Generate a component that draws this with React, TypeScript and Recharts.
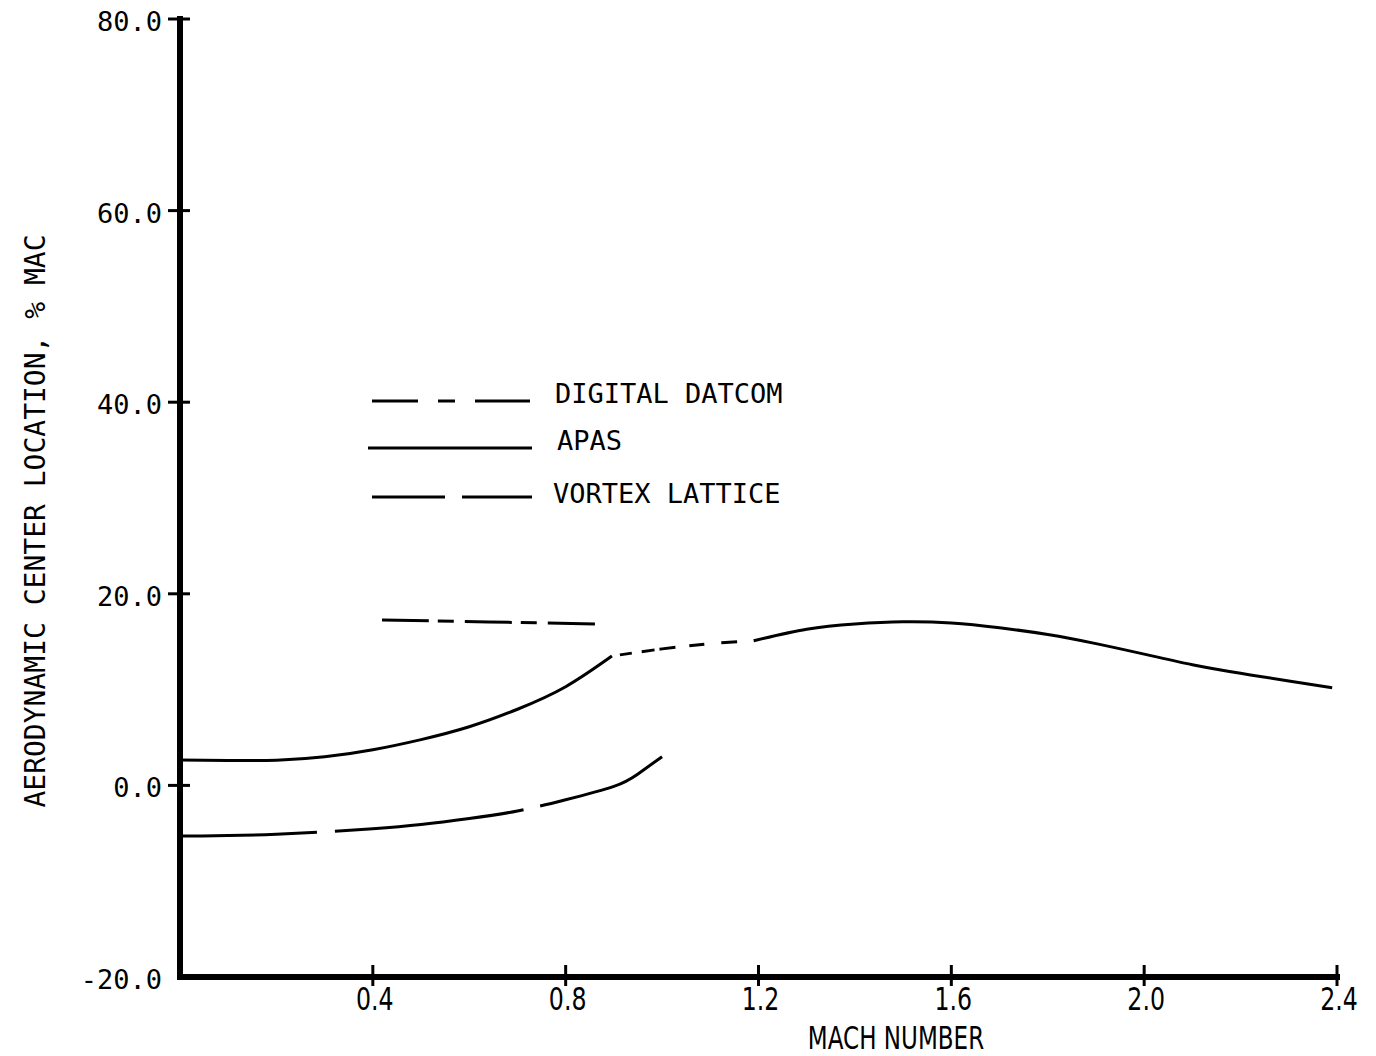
import React from 'react';
import { LineChart, Line, XAxis, YAxis, Customized } from 'recharts';

// ---- Data (Mach number vs aerodynamic center location, % MAC) ----
const apasSubsonicMach = [0, 0.1, 0.2, 0.3, 0.4, 0.5, 0.6, 0.7, 0.8, 0.896];
const apasSubsonicValues = [2.65, 2.6, 2.62, 2.98, 3.72, 4.78, 6.12, 7.95, 10.3, 13.5];

const apasSupersonicMach = [1.19, 1.3, 1.4, 1.5, 1.6, 1.7, 1.8, 1.9, 2.0, 2.1, 2.2, 2.3, 2.39];
const apasSupersonicValues = [15.1, 16.3, 16.85, 17.08, 16.95, 16.45, 15.75, 14.8, 13.7, 12.6, 11.7, 10.9, 10.2];

const datcomSubsonicMach = [0.419, 0.64, 0.865];
const datcomSubsonicValues = [17.27, 17.06, 16.85];

const datcomTransonicMach = [0.896, 1.0, 1.1, 1.19];
const datcomTransonicValues = [13.5, 14.25, 14.8, 15.1];

const vortexMach = [0, 0.1, 0.2, 0.3, 0.4, 0.5, 0.6, 0.7, 0.8, 0.9, 0.95, 1.0];
const vortexValues = [-5.28, -5.24, -5.1, -4.85, -4.52, -4.08, -3.46, -2.67, -1.5, -0.1, 1.2, 3.0];

const xTicks = [0.4, 0.8, 1.2, 1.6, 2.0, 2.4];
const yTicks = [-20, 0, 20, 40, 60, 80];

const legendLabels = ['DIGITAL DATCOM', 'APAS', 'VORTEX LATTICE'];
const xAxisTitle = 'MACH NUMBER';
const yAxisTitle = 'AERODYNAMIC CENTER LOCATION, % MAC';

const toPoints = (ms: number[], vs: number[]) => ms.map((m, i) => ({ mach: m, value: vs[i] }));

const apasSub = toPoints(apasSubsonicMach, apasSubsonicValues);
const apasSup = toPoints(apasSupersonicMach, apasSupersonicValues);
const datcomSub = toPoints(datcomSubsonicMach, datcomSubsonicValues);
const datcomTrans = toPoints(datcomTransonicMach, datcomTransonicValues);
const vortex = toPoints(vortexMach, vortexValues);

const MONO = "'DejaVu Sans Mono', 'Liberation Mono', monospace";
const SANS = "'DejaVu Sans', 'Liberation Sans', sans-serif";

const XTick = (props: any) => {
  const { x, y, payload } = props;
  return (
    <g>
      <line x1={x} x2={x} y1={y - 12} y2={y + 9} stroke="#000" strokeWidth={3} />
      <text
        transform={`translate(${x + 2},${y + 33}) scale(0.74,1)`}
        textAnchor="middle"
        fontFamily={SANS}
        fontSize={32}
        fill="#000"
      >
        {Number(payload.value).toFixed(1)}
      </text>
    </g>
  );
};

const YTick = (props: any) => {
  const { x, y, payload } = props;
  const v = Number(payload.value);
  return (
    <g>
      {v !== -20 && <line x1={x - 12} x2={x + 10} y1={y} y2={y} stroke="#000" strokeWidth={3} />}
      <text x={x - 18} y={y + 12} textAnchor="end" fontFamily={MONO} fontSize={27} fill="#000">
        {v.toFixed(1)}
      </text>
    </g>
  );
};

const Overlay = () => (
  <g>
    {/* Legend */}
    <line x1={372} x2={530} y1={401} y2={401} stroke="#000" strokeWidth={3} strokeDasharray="46 20 17 20 60" />
    <text x={555} y={403} fontFamily={MONO} fontSize={27} fill="#000">{legendLabels[0]}</text>
    <line x1={368} x2={532} y1={448} y2={448} stroke="#000" strokeWidth={3} />
    <text x={557} y={450} fontFamily={MONO} fontSize={27} fill="#000">{legendLabels[1]}</text>
    <line x1={372} x2={532} y1={497} y2={497} stroke="#000" strokeWidth={3} strokeDasharray="73 17 80" />
    <text x={553} y={503} fontFamily={MONO} fontSize={27} fill="#000">{legendLabels[2]}</text>
    {/* Axis titles */}
    <text
      transform="translate(896,1049) scale(0.72,1)"
      textAnchor="middle"
      fontFamily={SANS}
      fontSize={32}
      fill="#000"
    >
      {xAxisTitle}
    </text>
    <text
      transform="translate(45,521) rotate(-90)"
      textAnchor="middle"
      fontFamily={MONO}
      fontSize={28}
      fill="#000"
    >
      {yAxisTitle}
    </text>
  </g>
);

export default function App() {
  return (
    <div style={{ position: 'absolute', left: 0, top: 0, width: 1376, height: 1056, background: '#fff' }}>
      <LineChart width={1376} height={1056} margin={{ top: 19, right: 39, bottom: 0, left: 0 }}>
        <XAxis
          dataKey="mach"
          type="number"
          domain={[0, 2.4]}
          ticks={xTicks}
          height={79}
          tickSize={0}
          tickMargin={0}
          tickLine={false}
          tick={<XTick />}
          axisLine={{ stroke: '#000', strokeWidth: 6, strokeLinecap: 'square' }}
          interval={0}
          allowDataOverflow
        />
        <YAxis
          type="number"
          domain={[-20, 80]}
          ticks={yTicks}
          width={180}
          tickSize={0}
          tickMargin={0}
          tickLine={false}
          tick={<YTick />}
          axisLine={{ stroke: '#000', strokeWidth: 6, strokeLinecap: 'square' }}
          interval={0}
          allowDataOverflow
        />
        <Line data={apasSub} dataKey="value" type="natural" stroke="#000" strokeWidth={3} dot={false} isAnimationActive={false} />
        <Line data={apasSup} dataKey="value" type="natural" stroke="#000" strokeWidth={3} dot={false} isAnimationActive={false} />
        <Line
          data={datcomSub}
          dataKey="value"
          type="natural"
          stroke="#000"
          strokeWidth={3}
          strokeDasharray="47 9 16 11"
          dot={false}
          isAnimationActive={false}
        />
        <Line
          data={datcomTrans}
          dataKey="value"
          type="natural"
          stroke="#000"
          strokeWidth={3}
          strokeDasharray="0 8 12 10 13 5 16 14 15 17 16 30"
          dot={false}
          isAnimationActive={false}
        />
        <Line
          data={vortex}
          dataKey="value"
          type="natural"
          stroke="#000"
          strokeWidth={3}
          strokeDasharray="137 18 190 17 300"
          dot={false}
          isAnimationActive={false}
        />
        <Customized component={<Overlay />} />
      </LineChart>
    </div>
  );
}
